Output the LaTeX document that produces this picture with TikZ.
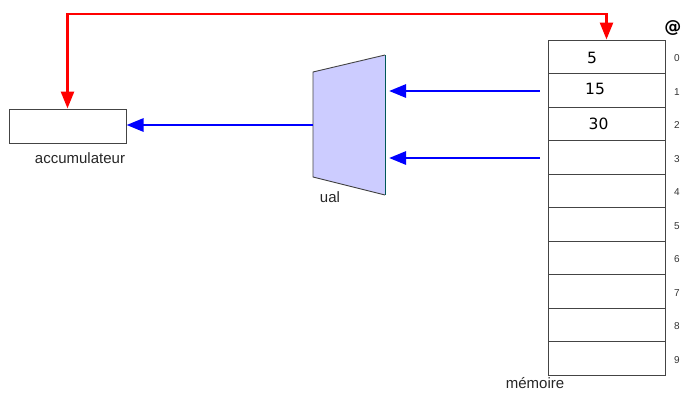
\documentclass[tikz,border=0pt]{standalone}
\usepackage{fontspec}
\setmainfont{Liberation Sans}
\newfontfamily\valfont{DejaVu Sans}
\usetikzlibrary{arrows.meta}
\definecolor{ualfill}{HTML}{CCCCFF}
\definecolor{cellborder}{HTML}{444444}
\tikzset{
  cell/.style={draw=cellborder, line width=1pt, minimum width=117pt, minimum height=33.5pt, inner sep=0pt},
  accbox/.style={draw=cellborder, line width=1pt, minimum width=117pt, minimum height=34pt, inner sep=0pt},
  caption/.style={font=\fontsize{15}{18}\selectfont, text=black!85, inner sep=0pt},
  idx/.style={font=\fontsize{10}{12}\selectfont, text=black!80, inner sep=0pt},
  val/.style={font=\valfont\fontsize{15.5}{18}\selectfont, inner sep=0pt},
  ctrl/.style={draw=red, line width=2.6pt, {Triangle[length=17pt,width=13pt]}-{Triangle[length=17pt,width=13pt]}},
  datap/.style={draw=blue, line width=2.8pt, -{Triangle[length=17pt,width=13pt]}},
}
\begin{document}
\begin{tikzpicture}[x=1pt,y=-1pt]
  \useasboundingbox (0,0) rectangle (682,392);

  % memory column: ten cells with their addresses
  \foreach \i in {0,...,9} {
    \node[cell] (m\i) at (606.5, {40+33.5*\i+16.75}) {};
    \node[idx] (a\i) at (677, {40+33.5*\i+18.5}) {\i};
  }
  \node[font=\valfont\bfseries\fontsize{17}{20}\selectfont, inner sep=0pt, anchor=east] (at) at (681.5,28) {@};
  \node[val] (v0) at (592,58) {5};
  \node[val] (v1) at (595,89) {15};
  \node[val] (v2) at (598.5,123.5) {30};
  \node[caption, anchor=south] (memlbl) at (535,389) {mémoire};

  % arithmetic and logic unit
  \coordinate (uTL) at (313,72);
  \coordinate (uBL) at (313,177);
  \coordinate (uTR) at (385,55);
  \coordinate (uBR) at (385,195);
  \fill[ualfill] (uTL) -- (uTR) -- (uBR) -- (uBL) -- cycle;
  \draw[cellborder, line width=0.9pt] (uTR) -- (uTL) -- (uBL) -- (uBR);
  \draw[teal!70!black, line width=0.9pt] (uTR) -- (uBR);
  \coordinate (ualout) at (313,125);
  \coordinate (ualin1) at (385,91);
  \coordinate (ualin2) at (385,158);
  \node[caption] (ualbl) at (330,197) {ual};

  % accumulator register
  \node[accbox] (acc) at (67.5,126) {};
  \node[caption] (acclbl) at (80,158) {accumulateur};

  % data paths
  \draw[datap, shorten >=4pt] (m1.west |- ualin1) ++(-8,0) -- (ualin1);
  \draw[datap, shorten >=4pt] (m3.west |- ualin2) ++(-8,0) -- (ualin2);
  \draw[datap] (ualout) -- (acc.east |- ualout);

  % address / control link
  \coordinate (topbar) at (67.5,14);
  \draw[ctrl] (acc.north) |- (topbar) -| (m0.north);
\end{tikzpicture}
\end{document}
